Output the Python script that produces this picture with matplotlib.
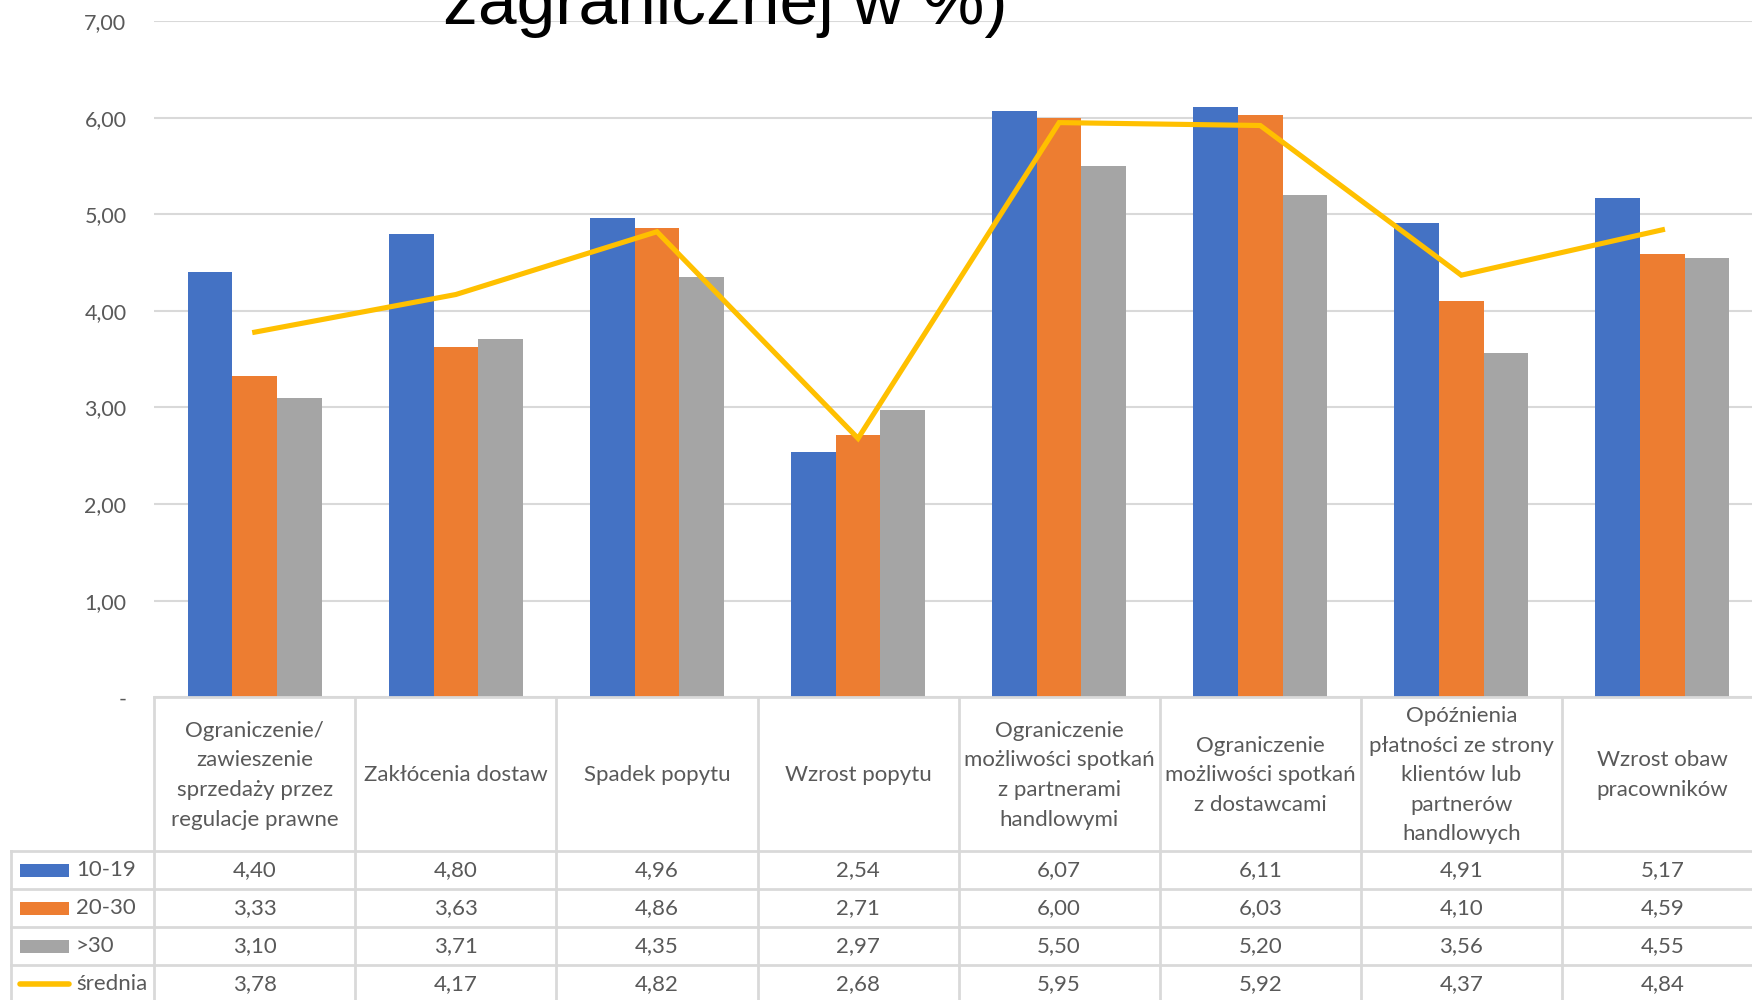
import numpy as np
import matplotlib.pyplot as plt
from matplotlib.patches import Rectangle

kategorie = [
    "Ograniczenie/\nzawieszenie\nsprzedaży przez\nregulacje prawne",
    "Zakłócenia dostaw",
    "Spadek popytu",
    "Wzrost popytu",
    "Ograniczenie\nmożliwości spotkań\nz partnerami\nhandlowymi",
    "Ograniczenie\nmożliwości spotkań\nz dostawcami",
    "Opóźnienia\npłatności ze strony\nklientów lub\npartnerów\nhandlowych",
    "Wzrost obaw\npracowników",
]
grupa_10_19 = [4.40, 4.80, 4.96, 2.54, 6.07, 6.11, 4.91, 5.17]
grupa_20_30 = [3.33, 3.63, 4.86, 2.71, 6.00, 6.03, 4.10, 4.59]
grupa_30 = [3.10, 3.71, 4.35, 2.97, 5.50, 5.20, 3.56, 4.55]
srednia = [3.78, 4.17, 4.82, 2.68, 5.95, 5.92, 4.37, 4.84]
serie_nazwy = ["10-19", "20-30", ">30", "średnia"]
yticki = [0, 1, 2, 3, 4, 5, 6, 7]

kolory = ["#4472C4", "#ED7D31", "#A5A5A5", "#FFC000"]
szary_txt = "#595959"
siatka = "#D9D9D9"
plt.rcParams['font.family'] = ['Lato', 'DejaVu Sans']

W, H = 1752, 1000
fig = plt.figure(figsize=(W / 100, H / 100), dpi=100)

# geometria w pikselach
x0 = 154.2        # lewa krawedz wykresu
kat_w = 201.1     # szerokosc kategorii
y_top = 21.2      # linia 7,00
y_zero = 697.2    # linia 0
n = len(kategorie)
fs = 16

ax = fig.add_axes([x0 / W, 1 - y_zero / H, n * kat_w / W, (y_zero - y_top) / H])
ax.set_xlim(0, n)
ax.set_ylim(0, 7)

x = np.arange(n) + 0.5
bw = 0.2222
for k, dane in enumerate([grupa_10_19, grupa_20_30, grupa_30]):
    ax.bar(x + (k - 1) * bw, dane, width=bw, color=kolory[k], zorder=2)
ax.plot(x, srednia, color=kolory[3], lw=3.7, zorder=3, solid_joinstyle='miter')

ax.set_yticks(yticki)
ax.set_yticklabels(["-" if v == 0 else f"{v:.2f}".replace(".", ",") for v in yticki],
                   color=szary_txt, fontsize=15.5)
ax.tick_params(axis='y', length=0, pad=20)
ax.set_xticks([])
for s in ax.spines.values():
    s.set_visible(False)
ax.yaxis.grid(True, color=siatka, lw=1.5, zorder=0)

# tytul (uciety u gory, tak jak w oryginale)
fig.text(725 / W, 1 - 24 / H, "zagranicznej w %)", ha='center', va='baseline',
         fontsize=50, family='Liberation Sans', color='black')

# tabela danych
lab_left = 11
t_left = -(x0 - lab_left) / kat_w
tab = fig.add_axes([lab_left / W, 0, (x0 + n * kat_w - lab_left) / W, 1 - y_zero / H])
tab.set_xlim(t_left, n)
tab.set_ylim(H - y_zero, 0)
tab.axis('off')

h_head = 154.2
h_row = 38.0
lw_t = 2
tab.plot([0, n], [0, 0], color=siatka, lw=lw_t, clip_on=False)
for i in range(n + 1):
    tab.plot([i, i], [0, h_head + 4 * h_row], color=siatka, lw=lw_t, clip_on=False)
tab.plot([t_left, t_left], [h_head, h_head + 4 * h_row], color=siatka, lw=lw_t, clip_on=False)
for r in range(4):
    yy = h_head + r * h_row
    tab.plot([t_left, n], [yy, yy], color=siatka, lw=lw_t, clip_on=False)

for i, lab in enumerate(kategorie):
    tab.text(i + 0.5, h_head / 2 + 1, lab, ha='center', va='center', fontsize=fs,
             color=szary_txt, linespacing=1.6)

key_x0 = t_left + 9 / kat_w
key_w = 49 / kat_w
for r, (nazwa, dane) in enumerate(zip(serie_nazwy, [grupa_10_19, grupa_20_30, grupa_30, srednia])):
    yc = h_head + r * h_row + h_row / 2
    if r < 3:
        tab.add_patch(Rectangle((key_x0, yc - 6.5), key_w, 13, color=kolory[r], lw=0))
    else:
        tab.plot([key_x0, key_x0 + key_w], [yc, yc], color=kolory[r], lw=4,
                 solid_capstyle='round')
    tab.text(key_x0 + key_w + 7 / kat_w, yc, nazwa, ha='left', va='center',
             fontsize=fs, color=szary_txt)
    for i, v in enumerate(dane):
        tab.text(i + 0.5, yc, f"{v:.2f}".replace(".", ","), ha='center', va='center',
                 fontsize=fs, color=szary_txt)

fig.savefig("out.png", dpi=100)
